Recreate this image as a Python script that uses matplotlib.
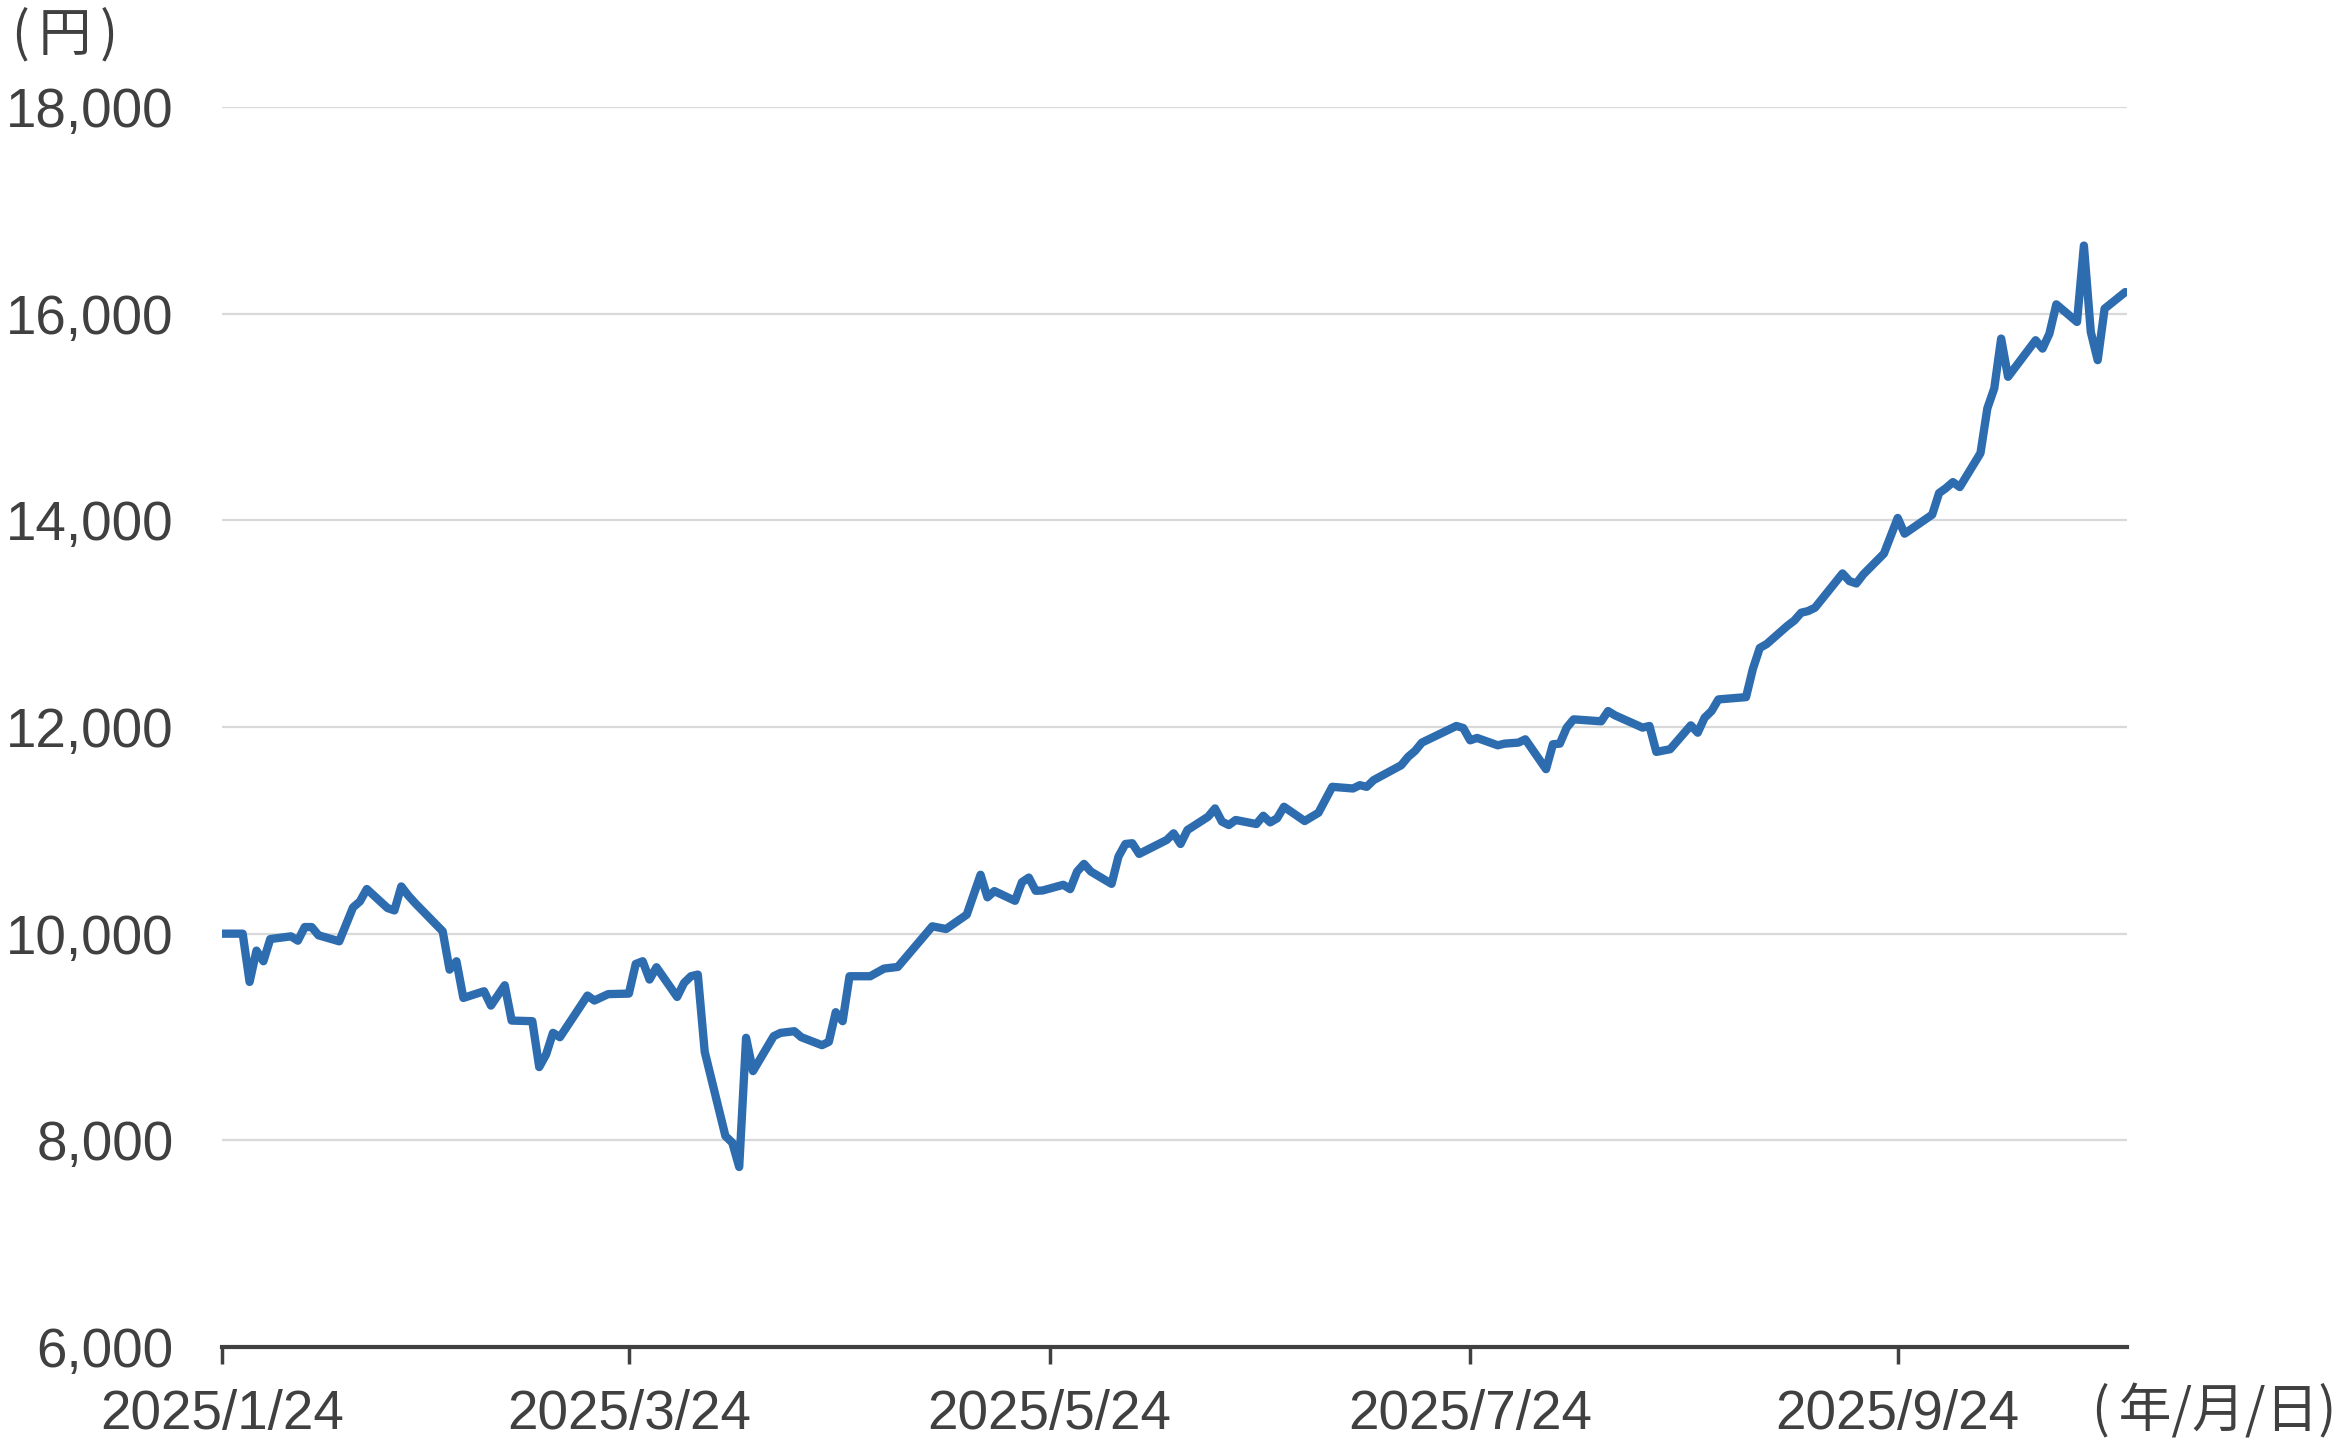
import matplotlib
matplotlib.use("Agg")
import matplotlib.pyplot as plt
import matplotlib.ticker as mticker
import pandas as pd

plt.rcParams['font.family'] = ['Liberation Sans', 'Noto Sans CJK JP', 'DejaVu Sans']

dates = [
    "2025-01-24", "2025-01-27", "2025-01-28", "2025-01-29", "2025-01-30", "2025-01-31",
    "2025-02-03", "2025-02-04", "2025-02-05", "2025-02-06", "2025-02-07", "2025-02-10",
    "2025-02-12", "2025-02-13", "2025-02-14", "2025-02-17", "2025-02-18", "2025-02-19",
    "2025-02-20", "2025-02-21", "2025-02-25", "2025-02-26", "2025-02-27", "2025-02-28",
    "2025-03-03", "2025-03-04", "2025-03-06", "2025-03-07", "2025-03-10", "2025-03-11",
    "2025-03-12", "2025-03-13", "2025-03-14", "2025-03-18", "2025-03-19", "2025-03-21",
    "2025-03-24", "2025-03-25", "2025-03-26", "2025-03-27", "2025-03-28", "2025-03-31",
    "2025-04-01", "2025-04-02", "2025-04-03", "2025-04-04", "2025-04-07", "2025-04-08",
    "2025-04-09", "2025-04-10", "2025-04-11", "2025-04-14", "2025-04-15", "2025-04-17",
    "2025-04-18", "2025-04-21", "2025-04-22", "2025-04-23", "2025-04-24", "2025-04-25",
    "2025-04-28", "2025-04-30", "2025-05-02", "2025-05-07", "2025-05-09", "2025-05-12",
    "2025-05-14", "2025-05-15", "2025-05-16", "2025-05-19", "2025-05-20", "2025-05-21",
    "2025-05-22", "2025-05-23", "2025-05-26", "2025-05-27", "2025-05-28", "2025-05-29",
    "2025-05-30", "2025-06-02", "2025-06-03", "2025-06-04", "2025-06-05", "2025-06-06",
    "2025-06-10", "2025-06-11", "2025-06-12", "2025-06-13", "2025-06-16", "2025-06-17",
    "2025-06-18", "2025-06-19", "2025-06-20", "2025-06-23", "2025-06-24", "2025-06-25",
    "2025-06-26", "2025-06-27", "2025-06-30", "2025-07-02", "2025-07-04", "2025-07-07",
    "2025-07-08", "2025-07-09", "2025-07-10", "2025-07-14", "2025-07-15", "2025-07-16",
    "2025-07-17", "2025-07-22", "2025-07-23", "2025-07-24", "2025-07-25", "2025-07-28",
    "2025-07-29", "2025-07-31", "2025-08-01", "2025-08-04", "2025-08-05", "2025-08-06",
    "2025-08-07", "2025-08-08", "2025-08-12", "2025-08-13", "2025-08-14", "2025-08-18",
    "2025-08-19", "2025-08-20", "2025-08-22", "2025-08-25", "2025-08-26", "2025-08-27",
    "2025-08-28", "2025-08-29", "2025-09-02", "2025-09-03", "2025-09-04", "2025-09-05",
    "2025-09-08", "2025-09-09", "2025-09-10", "2025-09-11", "2025-09-12", "2025-09-16",
    "2025-09-17", "2025-09-18", "2025-09-19", "2025-09-22", "2025-09-24", "2025-09-25",
    "2025-09-29", "2025-09-30", "2025-10-01", "2025-10-02", "2025-10-03", "2025-10-06",
    "2025-10-07", "2025-10-08", "2025-10-09", "2025-10-10", "2025-10-14", "2025-10-15",
    "2025-10-16", "2025-10-17", "2025-10-20", "2025-10-21", "2025-10-22", "2025-10-23",
    "2025-10-24", "2025-10-27",
]

values = [
    10000, 10000, 9533, 9836, 9733, 9948,
    9974, 9932, 10064, 10064, 9984, 9926,
    10254, 10312, 10432, 10248, 10225, 10457,
    10370, 10296, 10023, 9652, 9733, 9378,
    9443, 9304, 9501, 9159, 9153, 8709,
    8831, 9040, 8998, 9401, 9353, 9415,
    9420, 9707, 9733, 9556, 9675, 9388,
    9523, 9588, 9604, 8857, 8042, 7977,
    7742, 8992, 8670, 9008, 9040, 9056,
    8998, 8921, 8953, 9240, 9153, 9588,
    9588, 9662, 9678, 10071, 10045, 10184,
    10570, 10352, 10412, 10318, 10498, 10543,
    10415, 10418, 10473, 10431, 10601, 10675,
    10601, 10482, 10746, 10868, 10875, 10772,
    10907, 10971, 10868, 11003, 11132, 11212,
    11084, 11051, 11100, 11061, 11141, 11077,
    11116, 11228, 11090, 11170, 11421, 11405,
    11437, 11421, 11486, 11630, 11711, 11768,
    11849, 12010, 11990, 11871, 11894, 11823,
    11839, 11849, 11881, 11592, 11833, 11839,
    11994, 12074, 12055, 12154, 12113, 11994,
    12010, 11759, 11785, 12016, 11945, 12090,
    12154, 12267, 12289, 12563, 12765, 12803,
    12979, 13030, 13106, 13122, 13154, 13486,
    13412, 13389, 13476, 13678, 14023, 13871,
    14055, 14264, 14312, 14370, 14322, 14650,
    15084, 15277, 15759, 15389, 15743, 15662,
    15807, 16090, 15920, 16659, 15823, 15550,
    16048, 16209,
]

tick_dates = ["2025-01-24", "2025-03-24", "2025-05-24", "2025-07-24", "2025-09-24"]
tick_labels = ["2025/1/24", "2025/3/24", "2025/5/24", "2025/7/24", "2025/9/24"]
y_ticks = [6000, 8000, 10000, 12000, 14000, 16000, 18000]

W, H = 2342, 1451
fig = plt.figure(figsize=(W / 100, H / 100), dpi=100)
ax = fig.add_axes([222 / W, 1 - 1347 / H, (2127 - 222) / W, (1347 - 107) / H])

x = pd.to_datetime(dates)
ax.plot(x, values, color='#2E6CB0', linewidth=6.0, solid_joinstyle='round', solid_capstyle='round', zorder=3)

ax.set_ylim(6000, 18000)
ax.set_yticks(y_ticks)
ax.yaxis.set_major_formatter(mticker.FuncFormatter(lambda v, p: f"{int(v):,}"))
ax.set_xlim(pd.Timestamp("2025-01-24"), pd.Timestamp("2025-10-27") + pd.Timedelta(hours=6))
ax.set_xticks(pd.to_datetime(tick_dates))
ax.set_xticklabels(tick_labels)

for v in y_ticks[1:]:
    ax.axhline(v, color='#D9D9D9', linewidth=1.6, zorder=1)

for s in ['top', 'right', 'left']:
    ax.spines[s].set_visible(False)
ax.spines['bottom'].set_color('#404040')
ax.spines['bottom'].set_linewidth(3.0)
ax.spines['bottom'].set_zorder(4)

ax.tick_params(axis='y', length=0, pad=35, labelsize=39.5, labelcolor='#404040')
ax.tick_params(axis='x', length=12, width=2.5, color='#404040', pad=18, labelsize=39.5, labelcolor='#404040')

fig.text(12 / W, 1 - 35 / H, '(\u2006円\u2006)', ha='left', va='center', fontsize=38,
         color='#404040', family=['Noto Sans CJK JP', 'DejaVu Sans'])
fig.text(2336 / W, 1 - 1412 / H, '(\u2006年/月/日)', ha='right', va='center', fontsize=38,
         color='#404040', family=['Noto Sans CJK JP', 'DejaVu Sans'])

fig.savefig('out.png', dpi=100)
